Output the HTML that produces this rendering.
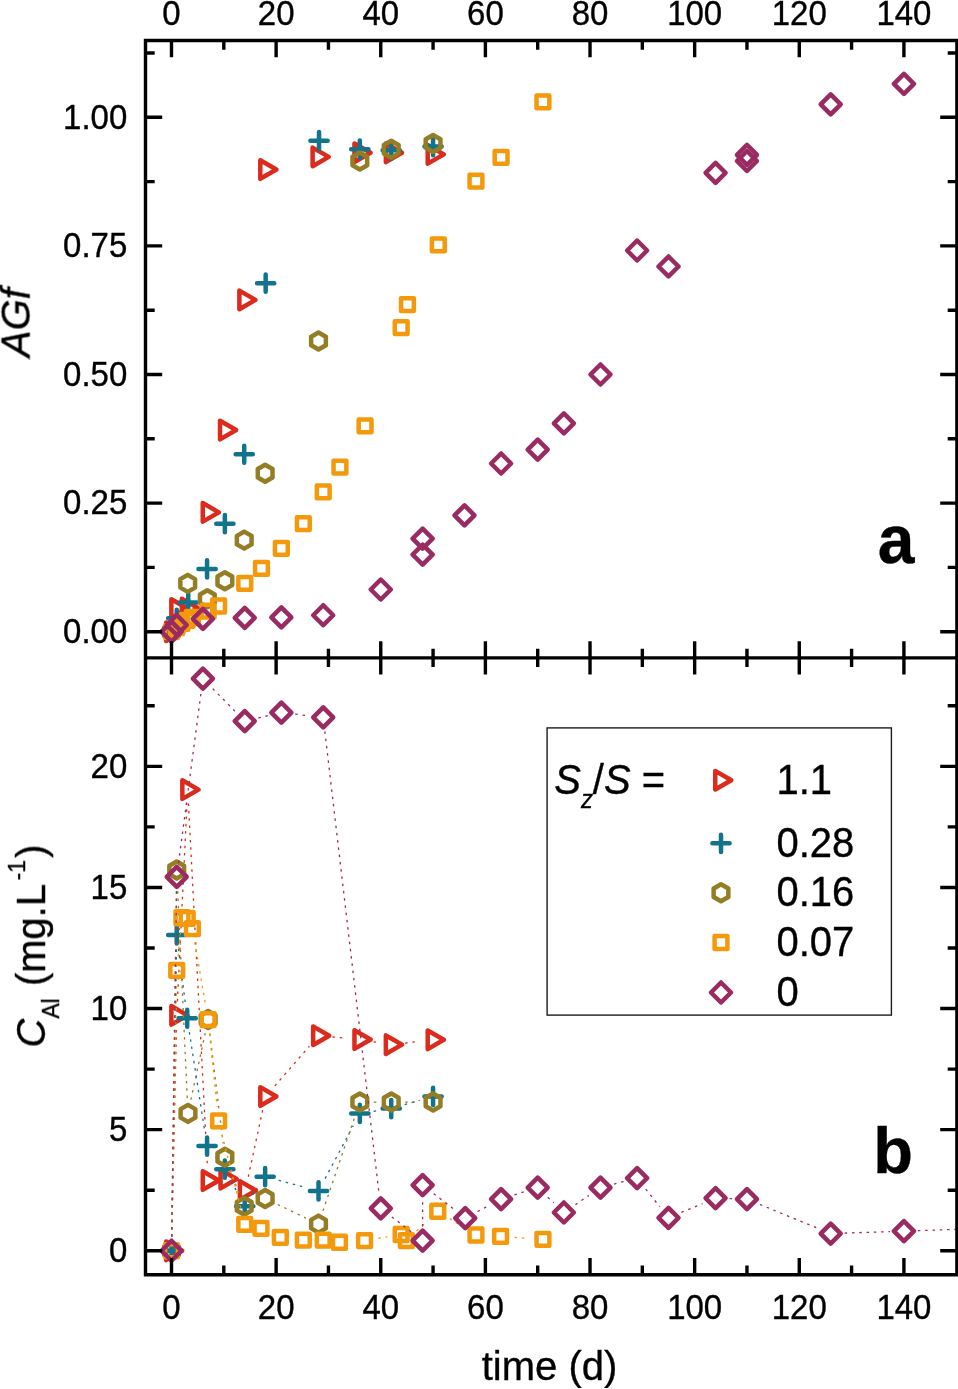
<!DOCTYPE html>
<html><head><meta charset="utf-8"><title>AGf and Al concentration vs time</title>
<style>html,body{margin:0;padding:0;background:#fff;overflow:hidden}svg{display:block}text{font-family:"Liberation Sans",sans-serif;fill:#000;stroke:#000;stroke-width:0.35px}</style></head><body>
<svg width="958" height="1389" viewBox="0 0 958 1389">
<rect width="958" height="1389" fill="#fff"/>
<g opacity="0.999">
<defs><clipPath id="cb"><rect x="145.5" y="657.9" width="812.5" height="616.9"/></clipPath></defs>
<g>
<path d="M166.13 622.4L182.24 631.7L166.13 641Z" fill="none" stroke="#dc2a1c" stroke-width="4.5" stroke-linejoin="round" stroke-linecap="round"/>
<path d="M171.36 599.25L187.47 608.55L171.36 617.85Z" fill="none" stroke="#dc2a1c" stroke-width="4.5" stroke-linejoin="round" stroke-linecap="round"/>
<path d="M181.83 598.74L197.93 608.04L181.83 617.34Z" fill="none" stroke="#dc2a1c" stroke-width="4.5" stroke-linejoin="round" stroke-linecap="round"/>
<path d="M202.75 503.06L218.86 512.36L202.75 521.66Z" fill="none" stroke="#dc2a1c" stroke-width="4.5" stroke-linejoin="round" stroke-linecap="round"/>
<path d="M220.02 420.76L236.12 430.06L220.02 439.36Z" fill="none" stroke="#dc2a1c" stroke-width="4.5" stroke-linejoin="round" stroke-linecap="round"/>
<path d="M239.37 290.61L255.48 299.91L239.37 309.21Z" fill="none" stroke="#dc2a1c" stroke-width="4.5" stroke-linejoin="round" stroke-linecap="round"/>
<path d="M260.3 160.21L276.41 169.51L260.3 178.81Z" fill="none" stroke="#dc2a1c" stroke-width="4.5" stroke-linejoin="round" stroke-linecap="round"/>
<path d="M312.61 147.61L328.72 156.91L312.61 166.21Z" fill="none" stroke="#dc2a1c" stroke-width="4.5" stroke-linejoin="round" stroke-linecap="round"/>
<path d="M354.46 143.49L370.57 152.79L354.46 162.09Z" fill="none" stroke="#dc2a1c" stroke-width="4.5" stroke-linejoin="round" stroke-linecap="round"/>
<path d="M385.85 143.49L401.96 152.79L385.85 162.09Z" fill="none" stroke="#dc2a1c" stroke-width="4.5" stroke-linejoin="round" stroke-linecap="round"/>
<path d="M427.71 145.04L443.81 154.34L427.71 163.64Z" fill="none" stroke="#dc2a1c" stroke-width="4.5" stroke-linejoin="round" stroke-linecap="round"/>
<path d="M162.9 631.7H180.1M171.5 623.1V640.3" fill="none" stroke="#11748a" stroke-width="4.5" stroke-linejoin="round" stroke-linecap="round"/>
<path d="M168.13 618.33H185.33M176.73 609.73V626.93" fill="none" stroke="#11748a" stroke-width="4.5" stroke-linejoin="round" stroke-linecap="round"/>
<path d="M179.64 602.38H196.84M188.24 593.78V610.98" fill="none" stroke="#11748a" stroke-width="4.5" stroke-linejoin="round" stroke-linecap="round"/>
<path d="M198.47 568.94H215.67M207.07 560.34V577.54" fill="none" stroke="#11748a" stroke-width="4.5" stroke-linejoin="round" stroke-linecap="round"/>
<path d="M216.26 523.68H233.46M224.86 515.08V532.28" fill="none" stroke="#11748a" stroke-width="4.5" stroke-linejoin="round" stroke-linecap="round"/>
<path d="M235.62 454.23H252.82M244.22 445.63V462.83" fill="none" stroke="#11748a" stroke-width="4.5" stroke-linejoin="round" stroke-linecap="round"/>
<path d="M257.07 283.19H274.27M265.67 274.59V291.79" fill="none" stroke="#11748a" stroke-width="4.5" stroke-linejoin="round" stroke-linecap="round"/>
<path d="M310.43 140.71H327.63M319.03 132.11V149.31" fill="none" stroke="#11748a" stroke-width="4.5" stroke-linejoin="round" stroke-linecap="round"/>
<path d="M351.23 149.19H368.43M359.83 140.59V157.79" fill="none" stroke="#11748a" stroke-width="4.5" stroke-linejoin="round" stroke-linecap="round"/>
<path d="M382.62 150.22H399.82M391.22 141.62V158.82" fill="none" stroke="#11748a" stroke-width="4.5" stroke-linejoin="round" stroke-linecap="round"/>
<path d="M424.47 146.62H441.68M433.07 138.02V155.22" fill="none" stroke="#11748a" stroke-width="4.5" stroke-linejoin="round" stroke-linecap="round"/>
<path d="M171.5 623.2L164.14 627.45L164.14 635.95L171.5 640.2L178.86 635.95L178.86 627.45Z" fill="none" stroke="#937e25" stroke-width="4.5" stroke-linejoin="round" stroke-linecap="round"/>
<path d="M176.73 618.06L169.37 622.31L169.37 630.81L176.73 635.06L184.09 630.81L184.09 622.31Z" fill="none" stroke="#937e25" stroke-width="4.5" stroke-linejoin="round" stroke-linecap="round"/>
<path d="M187.72 574.85L180.36 579.1L180.36 587.6L187.72 591.85L195.08 587.6L195.08 579.1Z" fill="none" stroke="#937e25" stroke-width="4.5" stroke-linejoin="round" stroke-linecap="round"/>
<path d="M207.34 590.28L199.97 594.53L199.97 603.03L207.34 607.28L214.7 603.03L214.7 594.53Z" fill="none" stroke="#937e25" stroke-width="4.5" stroke-linejoin="round" stroke-linecap="round"/>
<path d="M224.86 572.27L217.5 576.52L217.5 585.02L224.86 589.27L232.22 585.02L232.22 576.52Z" fill="none" stroke="#937e25" stroke-width="4.5" stroke-linejoin="round" stroke-linecap="round"/>
<path d="M244.22 531.64L236.86 535.89L236.86 544.39L244.22 548.64L251.58 544.39L251.58 535.89Z" fill="none" stroke="#937e25" stroke-width="4.5" stroke-linejoin="round" stroke-linecap="round"/>
<path d="M265.14 464.76L257.78 469.01L257.78 477.51L265.14 481.76L272.51 477.51L272.51 469.01Z" fill="none" stroke="#937e25" stroke-width="4.5" stroke-linejoin="round" stroke-linecap="round"/>
<path d="M318.51 332.56L311.14 336.81L311.14 345.31L318.51 349.56L325.87 345.31L325.87 336.81Z" fill="none" stroke="#937e25" stroke-width="4.5" stroke-linejoin="round" stroke-linecap="round"/>
<path d="M359.83 152.52L352.47 156.77L352.47 165.27L359.83 169.52L367.2 165.27L367.2 156.77Z" fill="none" stroke="#937e25" stroke-width="4.5" stroke-linejoin="round" stroke-linecap="round"/>
<path d="M391.22 140.69L383.86 144.94L383.86 153.44L391.22 157.69L398.58 153.44L398.58 144.94Z" fill="none" stroke="#937e25" stroke-width="4.5" stroke-linejoin="round" stroke-linecap="round"/>
<path d="M433.07 135.03L425.71 139.28L425.71 147.78L433.07 152.03L440.44 147.78L440.44 139.28Z" fill="none" stroke="#937e25" stroke-width="4.5" stroke-linejoin="round" stroke-linecap="round"/>
<rect x="165.1" y="625.3" width="12.8" height="12.8" fill="none" stroke="#f4990b" stroke-width="4.5" stroke-linejoin="round" stroke-linecap="round"/>
<rect x="170.33" y="621.18" width="12.8" height="12.8" fill="none" stroke="#f4990b" stroke-width="4.5" stroke-linejoin="round" stroke-linecap="round"/>
<rect x="175.56" y="617.07" width="12.8" height="12.8" fill="none" stroke="#f4990b" stroke-width="4.5" stroke-linejoin="round" stroke-linecap="round"/>
<rect x="180.79" y="613.98" width="12.8" height="12.8" fill="none" stroke="#f4990b" stroke-width="4.5" stroke-linejoin="round" stroke-linecap="round"/>
<rect x="186.03" y="610.9" width="12.8" height="12.8" fill="none" stroke="#f4990b" stroke-width="4.5" stroke-linejoin="round" stroke-linecap="round"/>
<rect x="201.72" y="604.72" width="12.8" height="12.8" fill="none" stroke="#f4990b" stroke-width="4.5" stroke-linejoin="round" stroke-linecap="round"/>
<rect x="212.18" y="599.58" width="12.8" height="12.8" fill="none" stroke="#f4990b" stroke-width="4.5" stroke-linejoin="round" stroke-linecap="round"/>
<rect x="238.34" y="576.95" width="12.8" height="12.8" fill="none" stroke="#f4990b" stroke-width="4.5" stroke-linejoin="round" stroke-linecap="round"/>
<rect x="255.08" y="562.03" width="12.8" height="12.8" fill="none" stroke="#f4990b" stroke-width="4.5" stroke-linejoin="round" stroke-linecap="round"/>
<rect x="274.96" y="541.97" width="12.8" height="12.8" fill="none" stroke="#f4990b" stroke-width="4.5" stroke-linejoin="round" stroke-linecap="round"/>
<rect x="296.93" y="517.28" width="12.8" height="12.8" fill="none" stroke="#f4990b" stroke-width="4.5" stroke-linejoin="round" stroke-linecap="round"/>
<rect x="316.81" y="485.38" width="12.8" height="12.8" fill="none" stroke="#f4990b" stroke-width="4.5" stroke-linejoin="round" stroke-linecap="round"/>
<rect x="333.55" y="460.69" width="12.8" height="12.8" fill="none" stroke="#f4990b" stroke-width="4.5" stroke-linejoin="round" stroke-linecap="round"/>
<rect x="358.67" y="419.54" width="12.8" height="12.8" fill="none" stroke="#f4990b" stroke-width="4.5" stroke-linejoin="round" stroke-linecap="round"/>
<rect x="394.76" y="321.29" width="12.8" height="12.8" fill="none" stroke="#f4990b" stroke-width="4.5" stroke-linejoin="round" stroke-linecap="round"/>
<rect x="401.04" y="298.14" width="12.8" height="12.8" fill="none" stroke="#f4990b" stroke-width="4.5" stroke-linejoin="round" stroke-linecap="round"/>
<rect x="431.91" y="238.47" width="12.8" height="12.8" fill="none" stroke="#f4990b" stroke-width="4.5" stroke-linejoin="round" stroke-linecap="round"/>
<rect x="469.57" y="174.69" width="12.8" height="12.8" fill="none" stroke="#f4990b" stroke-width="4.5" stroke-linejoin="round" stroke-linecap="round"/>
<rect x="494.68" y="151.02" width="12.8" height="12.8" fill="none" stroke="#f4990b" stroke-width="4.5" stroke-linejoin="round" stroke-linecap="round"/>
<rect x="536.54" y="95.47" width="12.8" height="12.8" fill="none" stroke="#f4990b" stroke-width="4.5" stroke-linejoin="round" stroke-linecap="round"/>
<path d="M171.5 621.7L181.5 631.7L171.5 641.7L161.5 631.7Z" fill="none" stroke="#992b62" stroke-width="4.5" stroke-linejoin="round" stroke-linecap="round"/>
<path d="M176.73 615.01L186.73 625.01L176.73 635.01L166.73 625.01Z" fill="none" stroke="#992b62" stroke-width="4.5" stroke-linejoin="round" stroke-linecap="round"/>
<path d="M202.89 608.84L212.89 618.84L202.89 628.84L192.89 618.84Z" fill="none" stroke="#992b62" stroke-width="4.5" stroke-linejoin="round" stroke-linecap="round"/>
<path d="M244.74 607.81L254.74 617.81L244.74 627.81L234.74 617.81Z" fill="none" stroke="#992b62" stroke-width="4.5" stroke-linejoin="round" stroke-linecap="round"/>
<path d="M281.36 607.3L291.36 617.3L281.36 627.3L271.36 617.3Z" fill="none" stroke="#992b62" stroke-width="4.5" stroke-linejoin="round" stroke-linecap="round"/>
<path d="M323.21 605.24L333.21 615.24L323.21 625.24L313.21 615.24Z" fill="none" stroke="#992b62" stroke-width="4.5" stroke-linejoin="round" stroke-linecap="round"/>
<path d="M380.76 579.52L390.76 589.52L380.76 599.52L370.76 589.52Z" fill="none" stroke="#992b62" stroke-width="4.5" stroke-linejoin="round" stroke-linecap="round"/>
<path d="M422.61 544.54L432.61 554.54L422.61 564.54L412.61 554.54Z" fill="none" stroke="#992b62" stroke-width="4.5" stroke-linejoin="round" stroke-linecap="round"/>
<path d="M422.61 528.59L432.61 538.59L422.61 548.59L412.61 538.59Z" fill="none" stroke="#992b62" stroke-width="4.5" stroke-linejoin="round" stroke-linecap="round"/>
<path d="M464.46 505.45L474.46 515.45L464.46 525.45L454.46 515.45Z" fill="none" stroke="#992b62" stroke-width="4.5" stroke-linejoin="round" stroke-linecap="round"/>
<path d="M501.08 453.49L511.08 463.49L501.08 473.49L491.08 463.49Z" fill="none" stroke="#992b62" stroke-width="4.5" stroke-linejoin="round" stroke-linecap="round"/>
<path d="M537.7 439.6L547.7 449.6L537.7 459.6L527.7 449.6Z" fill="none" stroke="#992b62" stroke-width="4.5" stroke-linejoin="round" stroke-linecap="round"/>
<path d="M563.86 413.37L573.86 423.37L563.86 433.37L553.86 423.37Z" fill="none" stroke="#992b62" stroke-width="4.5" stroke-linejoin="round" stroke-linecap="round"/>
<path d="M600.48 364.5L610.48 374.5L600.48 384.5L590.48 374.5Z" fill="none" stroke="#992b62" stroke-width="4.5" stroke-linejoin="round" stroke-linecap="round"/>
<path d="M637.1 240.53L647.1 250.53L637.1 260.53L627.1 250.53Z" fill="none" stroke="#992b62" stroke-width="4.5" stroke-linejoin="round" stroke-linecap="round"/>
<path d="M668.49 256.48L678.49 266.48L668.49 276.48L658.49 266.48Z" fill="none" stroke="#992b62" stroke-width="4.5" stroke-linejoin="round" stroke-linecap="round"/>
<path d="M715.58 162.86L725.58 172.86L715.58 182.86L705.58 172.86Z" fill="none" stroke="#992b62" stroke-width="4.5" stroke-linejoin="round" stroke-linecap="round"/>
<path d="M746.96 151.02L756.96 161.02L746.96 171.02L736.96 161.02Z" fill="none" stroke="#992b62" stroke-width="4.5" stroke-linejoin="round" stroke-linecap="round"/>
<path d="M746.96 144.85L756.96 154.85L746.96 164.85L736.96 154.85Z" fill="none" stroke="#992b62" stroke-width="4.5" stroke-linejoin="round" stroke-linecap="round"/>
<path d="M830.67 94.44L840.67 104.44L830.67 114.44L820.67 104.44Z" fill="none" stroke="#992b62" stroke-width="4.5" stroke-linejoin="round" stroke-linecap="round"/>
<path d="M903.91 73.86L913.91 83.86L903.91 93.86L893.91 83.86Z" fill="none" stroke="#992b62" stroke-width="4.5" stroke-linejoin="round" stroke-linecap="round"/>
</g>
<g clip-path="url(#cb)">
<path d="M171.81 1236.75L176.42 1029.33M177.41 1001.35L187.04 803.58M188.45 803.58L207.39 1166.53M248.23 1176.76L262.7 1110.15M274.85 1085.9L309.32 1046.24M332.44 1036.98L345.9 1038.24M373.65 1041.79L377.4 1042.4M405.13 1043.03L419.17 1041.4" stroke="#dc2a1c" fill="none" stroke-width="1.3" stroke-dasharray="2.5 4.8"/>
<path d="M166.13 1241.45L182.24 1250.75L166.13 1260.05Z" fill="none" stroke="#dc2a1c" stroke-width="4.5" stroke-linejoin="round" stroke-linecap="round"/>
<path d="M171.36 1006.03L187.47 1015.33L171.36 1024.63Z" fill="none" stroke="#dc2a1c" stroke-width="4.5" stroke-linejoin="round" stroke-linecap="round"/>
<path d="M182.35 780.3L198.46 789.6L182.35 798.9Z" fill="none" stroke="#dc2a1c" stroke-width="4.5" stroke-linejoin="round" stroke-linecap="round"/>
<path d="M202.75 1171.21L218.86 1180.51L202.75 1189.81Z" fill="none" stroke="#dc2a1c" stroke-width="4.5" stroke-linejoin="round" stroke-linecap="round"/>
<path d="M220.54 1169.76L236.65 1179.06L220.54 1188.36Z" fill="none" stroke="#dc2a1c" stroke-width="4.5" stroke-linejoin="round" stroke-linecap="round"/>
<path d="M239.89 1181.14L256 1190.44L239.89 1199.74Z" fill="none" stroke="#dc2a1c" stroke-width="4.5" stroke-linejoin="round" stroke-linecap="round"/>
<path d="M260.3 1087.17L276.41 1096.47L260.3 1105.77Z" fill="none" stroke="#dc2a1c" stroke-width="4.5" stroke-linejoin="round" stroke-linecap="round"/>
<path d="M313.14 1026.38L329.24 1035.68L313.14 1044.98Z" fill="none" stroke="#dc2a1c" stroke-width="4.5" stroke-linejoin="round" stroke-linecap="round"/>
<path d="M354.46 1030.25L370.57 1039.55L354.46 1048.85Z" fill="none" stroke="#dc2a1c" stroke-width="4.5" stroke-linejoin="round" stroke-linecap="round"/>
<path d="M385.85 1035.34L401.96 1044.64L385.85 1053.94Z" fill="none" stroke="#dc2a1c" stroke-width="4.5" stroke-linejoin="round" stroke-linecap="round"/>
<path d="M427.71 1030.49L443.81 1039.79L427.71 1049.09Z" fill="none" stroke="#dc2a1c" stroke-width="4.5" stroke-linejoin="round" stroke-linecap="round"/>
<path d="M171.73 1236.75L176.5 948.92M178.48 948.81L185.45 1004.35M189.35 1032.07L204.92 1132.29M215.64 1157.2L216.3 1158.05M231.48 1181.47L238.12 1193.85M252.7 1194.66L257.19 1188.16M278.67 1180.26L304.98 1187.31M325.09 1178.57L353.25 1125.78M373.67 1111.29L377.39 1110.71M404.67 1104.69L419.63 1100.36" stroke="#11748a" fill="none" stroke-width="1.3" stroke-dasharray="2.5 4.8"/>
<path d="M162.9 1250.75H180.1M171.5 1242.15V1259.35" fill="none" stroke="#11748a" stroke-width="4.5" stroke-linejoin="round" stroke-linecap="round"/>
<path d="M168.13 934.92H185.33M176.73 926.32V943.52" fill="none" stroke="#11748a" stroke-width="4.5" stroke-linejoin="round" stroke-linecap="round"/>
<path d="M178.59 1018.24H195.79M187.19 1009.64V1026.84" fill="none" stroke="#11748a" stroke-width="4.5" stroke-linejoin="round" stroke-linecap="round"/>
<path d="M198.47 1146.12H215.67M207.07 1137.52V1154.72" fill="none" stroke="#11748a" stroke-width="4.5" stroke-linejoin="round" stroke-linecap="round"/>
<path d="M216.26 1169.13H233.46M224.86 1160.53V1177.73" fill="none" stroke="#11748a" stroke-width="4.5" stroke-linejoin="round" stroke-linecap="round"/>
<path d="M236.14 1206.19H253.34M244.74 1197.59V1214.79" fill="none" stroke="#11748a" stroke-width="4.5" stroke-linejoin="round" stroke-linecap="round"/>
<path d="M256.54 1176.64H273.74M265.14 1168.04V1185.24" fill="none" stroke="#11748a" stroke-width="4.5" stroke-linejoin="round" stroke-linecap="round"/>
<path d="M309.91 1190.93H327.11M318.51 1182.33V1199.53" fill="none" stroke="#11748a" stroke-width="4.5" stroke-linejoin="round" stroke-linecap="round"/>
<path d="M351.23 1113.42H368.43M359.83 1104.82V1122.02" fill="none" stroke="#11748a" stroke-width="4.5" stroke-linejoin="round" stroke-linecap="round"/>
<path d="M382.62 1108.58H399.82M391.22 1099.98V1117.18" fill="none" stroke="#11748a" stroke-width="4.5" stroke-linejoin="round" stroke-linecap="round"/>
<path d="M424.47 1096.47H441.68M433.07 1087.87V1105.07" fill="none" stroke="#11748a" stroke-width="4.5" stroke-linejoin="round" stroke-linecap="round"/>
<path d="M171.69 1236.75L176.54 884.01M177.38 884L187.33 1099.44M190.91 1099.73L205.19 1033.14M209.81 1033.35L223.17 1143.36M230.01 1170.28L239.07 1193.17M277.76 1204.5L305.89 1218.04M322.99 1210.85L355.34 1115.3M373.83 1102.04L377.22 1102.04M405.22 1102.04L419.07 1102.04" stroke="#937e25" fill="none" stroke-width="1.3" stroke-dasharray="2.5 4.8"/>
<path d="M171.5 1242.25L164.14 1246.5L164.14 1255L171.5 1259.25L178.86 1255L178.86 1246.5Z" fill="none" stroke="#937e25" stroke-width="4.5" stroke-linejoin="round" stroke-linecap="round"/>
<path d="M176.73 861.51L169.37 865.76L169.37 874.26L176.73 878.51L184.09 874.26L184.09 865.76Z" fill="none" stroke="#937e25" stroke-width="4.5" stroke-linejoin="round" stroke-linecap="round"/>
<path d="M187.98 1104.92L180.62 1109.17L180.62 1117.67L187.98 1121.92L195.34 1117.67L195.34 1109.17Z" fill="none" stroke="#937e25" stroke-width="4.5" stroke-linejoin="round" stroke-linecap="round"/>
<path d="M208.12 1010.95L200.76 1015.2L200.76 1023.7L208.12 1027.95L215.48 1023.7L215.48 1015.2Z" fill="none" stroke="#937e25" stroke-width="4.5" stroke-linejoin="round" stroke-linecap="round"/>
<path d="M224.86 1148.76L217.5 1153.01L217.5 1161.51L224.86 1165.76L232.22 1161.51L232.22 1153.01Z" fill="none" stroke="#937e25" stroke-width="4.5" stroke-linejoin="round" stroke-linecap="round"/>
<path d="M244.22 1197.69L236.86 1201.94L236.86 1210.44L244.22 1214.69L251.58 1210.44L251.58 1201.94Z" fill="none" stroke="#937e25" stroke-width="4.5" stroke-linejoin="round" stroke-linecap="round"/>
<path d="M265.14 1189.93L257.78 1194.18L257.78 1202.68L265.14 1206.93L272.51 1202.68L272.51 1194.18Z" fill="none" stroke="#937e25" stroke-width="4.5" stroke-linejoin="round" stroke-linecap="round"/>
<path d="M318.51 1215.61L311.14 1219.86L311.14 1228.36L318.51 1232.61L325.87 1228.36L325.87 1219.86Z" fill="none" stroke="#937e25" stroke-width="4.5" stroke-linejoin="round" stroke-linecap="round"/>
<path d="M359.83 1093.54L352.47 1097.79L352.47 1106.29L359.83 1110.54L367.2 1106.29L367.2 1097.79Z" fill="none" stroke="#937e25" stroke-width="4.5" stroke-linejoin="round" stroke-linecap="round"/>
<path d="M391.22 1093.54L383.86 1097.79L383.86 1106.29L391.22 1110.54L398.58 1106.29L398.58 1097.79Z" fill="none" stroke="#937e25" stroke-width="4.5" stroke-linejoin="round" stroke-linecap="round"/>
<path d="M433.07 1093.54L425.71 1097.79L425.71 1106.29L433.07 1110.54L440.44 1106.29L440.44 1097.79Z" fill="none" stroke="#937e25" stroke-width="4.5" stroke-linejoin="round" stroke-linecap="round"/>
<path d="M171.76 1236.75L176.47 984.28M178.12 956.35L180.58 931.66M194.8 942.42L205.74 1005.89M209.56 1033.62L217.14 1107M222.02 1134.5L241.31 1210.78M378.35 1238.29L387.35 1236.81M416.63 1231.02L427.55 1220.83M449.67 1218.66L464.08 1227.62M514.53 1237.42L528.97 1238.41" stroke="#f4990b" fill="none" stroke-width="1.3" stroke-dasharray="2.5 4.8"/>
<rect x="165.1" y="1244.35" width="12.8" height="12.8" fill="none" stroke="#f4990b" stroke-width="4.5" stroke-linejoin="round" stroke-linecap="round"/>
<rect x="170.33" y="963.88" width="12.8" height="12.8" fill="none" stroke="#f4990b" stroke-width="4.5" stroke-linejoin="round" stroke-linecap="round"/>
<rect x="175.56" y="911.33" width="12.8" height="12.8" fill="none" stroke="#f4990b" stroke-width="4.5" stroke-linejoin="round" stroke-linecap="round"/>
<rect x="180.79" y="912.05" width="12.8" height="12.8" fill="none" stroke="#f4990b" stroke-width="4.5" stroke-linejoin="round" stroke-linecap="round"/>
<rect x="186.03" y="922.22" width="12.8" height="12.8" fill="none" stroke="#f4990b" stroke-width="4.5" stroke-linejoin="round" stroke-linecap="round"/>
<rect x="201.72" y="1013.29" width="12.8" height="12.8" fill="none" stroke="#f4990b" stroke-width="4.5" stroke-linejoin="round" stroke-linecap="round"/>
<rect x="212.18" y="1114.53" width="12.8" height="12.8" fill="none" stroke="#f4990b" stroke-width="4.5" stroke-linejoin="round" stroke-linecap="round"/>
<rect x="238.34" y="1217.95" width="12.8" height="12.8" fill="none" stroke="#f4990b" stroke-width="4.5" stroke-linejoin="round" stroke-linecap="round"/>
<rect x="254.56" y="1222.07" width="12.8" height="12.8" fill="none" stroke="#f4990b" stroke-width="4.5" stroke-linejoin="round" stroke-linecap="round"/>
<rect x="273.92" y="1231.03" width="12.8" height="12.8" fill="none" stroke="#f4990b" stroke-width="4.5" stroke-linejoin="round" stroke-linecap="round"/>
<rect x="296.93" y="1233.69" width="12.8" height="12.8" fill="none" stroke="#f4990b" stroke-width="4.5" stroke-linejoin="round" stroke-linecap="round"/>
<rect x="316.81" y="1233.69" width="12.8" height="12.8" fill="none" stroke="#f4990b" stroke-width="4.5" stroke-linejoin="round" stroke-linecap="round"/>
<rect x="333.03" y="1235.87" width="12.8" height="12.8" fill="none" stroke="#f4990b" stroke-width="4.5" stroke-linejoin="round" stroke-linecap="round"/>
<rect x="358.14" y="1234.18" width="12.8" height="12.8" fill="none" stroke="#f4990b" stroke-width="4.5" stroke-linejoin="round" stroke-linecap="round"/>
<rect x="394.76" y="1228.12" width="12.8" height="12.8" fill="none" stroke="#f4990b" stroke-width="4.5" stroke-linejoin="round" stroke-linecap="round"/>
<rect x="399.99" y="1234.18" width="12.8" height="12.8" fill="none" stroke="#f4990b" stroke-width="4.5" stroke-linejoin="round" stroke-linecap="round"/>
<rect x="431.38" y="1204.87" width="12.8" height="12.8" fill="none" stroke="#f4990b" stroke-width="4.5" stroke-linejoin="round" stroke-linecap="round"/>
<rect x="469.57" y="1228.61" width="12.8" height="12.8" fill="none" stroke="#f4990b" stroke-width="4.5" stroke-linejoin="round" stroke-linecap="round"/>
<rect x="494.16" y="1230.06" width="12.8" height="12.8" fill="none" stroke="#f4990b" stroke-width="4.5" stroke-linejoin="round" stroke-linecap="round"/>
<rect x="536.54" y="1232.97" width="12.8" height="12.8" fill="none" stroke="#f4990b" stroke-width="4.5" stroke-linejoin="round" stroke-linecap="round"/>
<path d="M171.7 1236.75L176.54 890.79M178.56 862.91L201.06 692.55M212.73 688.64L234.9 711.1M258.38 717.9L267.72 715.74M295.27 714.19L309.31 715.82M324.84 731.33L379.13 1194.46M391.85 1216.9L411.52 1232.04M422.61 1226.58L422.61 1199.11M433.69 1193.67L454.17 1209.49M477.63 1211.52L488.7 1205.69M514.43 1194.93L524.36 1191.77M547.84 1197.2L553.73 1202.82M575.43 1204.6L588.91 1195.42M614.04 1184.04L623.55 1181.59M645.78 1189.07L659.81 1206.83M681.42 1212.43L702.65 1203.58M729.57 1198.62L732.97 1198.73M759.91 1204.48L817.72 1228.23M844.66 1233.09L889.92 1231.59M917.9 1230.64L1020.71 1227.02" stroke="#992b62" fill="none" stroke-width="1.3" stroke-dasharray="2.5 4.8"/>
<path d="M171.5 1240.75L181.5 1250.75L171.5 1260.75L161.5 1250.75Z" fill="none" stroke="#992b62" stroke-width="4.5" stroke-linejoin="round" stroke-linecap="round"/>
<path d="M176.73 866.79L186.73 876.79L176.73 886.79L166.73 876.79Z" fill="none" stroke="#992b62" stroke-width="4.5" stroke-linejoin="round" stroke-linecap="round"/>
<path d="M202.89 668.67L212.89 678.67L202.89 688.67L192.89 678.67Z" fill="none" stroke="#992b62" stroke-width="4.5" stroke-linejoin="round" stroke-linecap="round"/>
<path d="M244.74 711.06L254.74 721.06L244.74 731.06L234.74 721.06Z" fill="none" stroke="#992b62" stroke-width="4.5" stroke-linejoin="round" stroke-linecap="round"/>
<path d="M281.36 702.58L291.36 712.58L281.36 722.58L271.36 712.58Z" fill="none" stroke="#992b62" stroke-width="4.5" stroke-linejoin="round" stroke-linecap="round"/>
<path d="M323.21 707.43L333.21 717.43L323.21 727.43L313.21 717.43Z" fill="none" stroke="#992b62" stroke-width="4.5" stroke-linejoin="round" stroke-linecap="round"/>
<path d="M380.76 1198.37L390.76 1208.37L380.76 1218.37L370.76 1208.37Z" fill="none" stroke="#992b62" stroke-width="4.5" stroke-linejoin="round" stroke-linecap="round"/>
<path d="M422.61 1230.58L432.61 1240.58L422.61 1250.58L412.61 1240.58Z" fill="none" stroke="#992b62" stroke-width="4.5" stroke-linejoin="round" stroke-linecap="round"/>
<path d="M422.61 1175.11L432.61 1185.11L422.61 1195.11L412.61 1185.11Z" fill="none" stroke="#992b62" stroke-width="4.5" stroke-linejoin="round" stroke-linecap="round"/>
<path d="M465.25 1208.05L475.25 1218.05L465.25 1228.05L455.25 1218.05Z" fill="none" stroke="#992b62" stroke-width="4.5" stroke-linejoin="round" stroke-linecap="round"/>
<path d="M501.08 1189.16L511.08 1199.16L501.08 1209.16L491.08 1199.16Z" fill="none" stroke="#992b62" stroke-width="4.5" stroke-linejoin="round" stroke-linecap="round"/>
<path d="M537.7 1177.54L547.7 1187.54L537.7 1197.54L527.7 1187.54Z" fill="none" stroke="#992b62" stroke-width="4.5" stroke-linejoin="round" stroke-linecap="round"/>
<path d="M563.86 1202.48L573.86 1212.48L563.86 1222.48L553.86 1212.48Z" fill="none" stroke="#992b62" stroke-width="4.5" stroke-linejoin="round" stroke-linecap="round"/>
<path d="M600.48 1177.54L610.48 1187.54L600.48 1197.54L590.48 1187.54Z" fill="none" stroke="#992b62" stroke-width="4.5" stroke-linejoin="round" stroke-linecap="round"/>
<path d="M637.1 1168.09L647.1 1178.09L637.1 1188.09L627.1 1178.09Z" fill="none" stroke="#992b62" stroke-width="4.5" stroke-linejoin="round" stroke-linecap="round"/>
<path d="M668.49 1207.81L678.49 1217.81L668.49 1227.81L658.49 1217.81Z" fill="none" stroke="#992b62" stroke-width="4.5" stroke-linejoin="round" stroke-linecap="round"/>
<path d="M715.58 1188.19L725.58 1198.19L715.58 1208.19L705.58 1198.19Z" fill="none" stroke="#992b62" stroke-width="4.5" stroke-linejoin="round" stroke-linecap="round"/>
<path d="M746.96 1189.16L756.96 1199.16L746.96 1209.16L736.96 1199.16Z" fill="none" stroke="#992b62" stroke-width="4.5" stroke-linejoin="round" stroke-linecap="round"/>
<path d="M830.67 1223.55L840.67 1233.55L830.67 1243.55L820.67 1233.55Z" fill="none" stroke="#992b62" stroke-width="4.5" stroke-linejoin="round" stroke-linecap="round"/>
<path d="M903.91 1221.13L913.91 1231.13L903.91 1241.13L893.91 1231.13Z" fill="none" stroke="#992b62" stroke-width="4.5" stroke-linejoin="round" stroke-linecap="round"/>
</g>
<path d="M145.5 40.55H956.9V1274.8H145.5ZM145.5 657.9H956.9M171.5 42.25v15M171.5 641.2v33.4M171.5 1273.1v-15M223.81 42.25v7.5M223.81 648.7v18.4M223.81 1273.1v-7.5M276.13 42.25v15M276.13 641.2v33.4M276.13 1273.1v-15M328.44 42.25v7.5M328.44 648.7v18.4M328.44 1273.1v-7.5M380.76 42.25v15M380.76 641.2v33.4M380.76 1273.1v-15M433.07 42.25v7.5M433.07 648.7v18.4M433.07 1273.1v-7.5M485.39 42.25v15M485.39 641.2v33.4M485.39 1273.1v-15M537.7 42.25v7.5M537.7 648.7v18.4M537.7 1273.1v-7.5M590.02 42.25v15M590.02 641.2v33.4M590.02 1273.1v-15M642.34 42.25v7.5M642.34 648.7v18.4M642.34 1273.1v-7.5M694.65 42.25v15M694.65 641.2v33.4M694.65 1273.1v-15M746.96 42.25v7.5M746.96 648.7v18.4M746.96 1273.1v-7.5M799.28 42.25v15M799.28 641.2v33.4M799.28 1273.1v-15M851.59 42.25v7.5M851.59 648.7v18.4M851.59 1273.1v-7.5M903.91 42.25v15M903.91 641.2v33.4M903.91 1273.1v-15M147.2 631.7h15M955.2 631.7h-15M147.2 567.4h7.5M955.2 567.4h-7.5M147.2 503.1h15M955.2 503.1h-15M147.2 438.8h7.5M955.2 438.8h-7.5M147.2 374.5h15M955.2 374.5h-15M147.2 310.2h7.5M955.2 310.2h-7.5M147.2 245.9h15M955.2 245.9h-15M147.2 181.6h7.5M955.2 181.6h-7.5M147.2 117.3h15M955.2 117.3h-15M147.2 53h7.5M955.2 53h-7.5M147.2 1250.75h15M955.2 1250.75h-15M147.2 1190.2h7.5M955.2 1190.2h-7.5M147.2 1129.65h15M955.2 1129.65h-15M147.2 1069.1h7.5M955.2 1069.1h-7.5M147.2 1008.55h15M955.2 1008.55h-15M147.2 948h7.5M955.2 948h-7.5M147.2 887.45h15M955.2 887.45h-15M147.2 826.9h7.5M955.2 826.9h-7.5M147.2 766.35h15M955.2 766.35h-15M147.2 705.8h7.5M955.2 705.8h-7.5" fill="none" stroke="#000" stroke-width="3.4" stroke-linecap="butt" stroke-linejoin="miter"/>
<text transform="translate(171.5 24.6) scale(1 1.055)" font-size="33" text-anchor="middle">0</text>
<text transform="translate(171.5 1318.9) scale(1 1.055)" font-size="33" text-anchor="middle">0</text>
<text transform="translate(276.13 24.6) scale(1 1.055)" font-size="33" text-anchor="middle">20</text>
<text transform="translate(276.13 1318.9) scale(1 1.055)" font-size="33" text-anchor="middle">20</text>
<text transform="translate(380.76 24.6) scale(1 1.055)" font-size="33" text-anchor="middle">40</text>
<text transform="translate(380.76 1318.9) scale(1 1.055)" font-size="33" text-anchor="middle">40</text>
<text transform="translate(485.39 24.6) scale(1 1.055)" font-size="33" text-anchor="middle">60</text>
<text transform="translate(485.39 1318.9) scale(1 1.055)" font-size="33" text-anchor="middle">60</text>
<text transform="translate(590.02 24.6) scale(1 1.055)" font-size="33" text-anchor="middle">80</text>
<text transform="translate(590.02 1318.9) scale(1 1.055)" font-size="33" text-anchor="middle">80</text>
<text transform="translate(694.65 24.6) scale(1 1.055)" font-size="33" text-anchor="middle">100</text>
<text transform="translate(694.65 1318.9) scale(1 1.055)" font-size="33" text-anchor="middle">100</text>
<text transform="translate(799.28 24.6) scale(1 1.055)" font-size="33" text-anchor="middle">120</text>
<text transform="translate(799.28 1318.9) scale(1 1.055)" font-size="33" text-anchor="middle">120</text>
<text transform="translate(903.91 24.6) scale(1 1.055)" font-size="33" text-anchor="middle">140</text>
<text transform="translate(903.91 1318.9) scale(1 1.055)" font-size="33" text-anchor="middle">140</text>
<text transform="translate(127.3 643) scale(1 1.055)" font-size="33" text-anchor="end">0.00</text>
<text transform="translate(127.3 514.4) scale(1 1.055)" font-size="33" text-anchor="end">0.25</text>
<text transform="translate(127.3 385.8) scale(1 1.055)" font-size="33" text-anchor="end">0.50</text>
<text transform="translate(127.3 257.2) scale(1 1.055)" font-size="33" text-anchor="end">0.75</text>
<text transform="translate(127.3 128.6) scale(1 1.055)" font-size="33" text-anchor="end">1.00</text>
<text transform="translate(127.3 1262.05) scale(1 1.055)" font-size="33" text-anchor="end">0</text>
<text transform="translate(127.3 1140.95) scale(1 1.055)" font-size="33" text-anchor="end">5</text>
<text transform="translate(127.3 1019.85) scale(1 1.055)" font-size="33" text-anchor="end">10</text>
<text transform="translate(127.3 898.75) scale(1 1.055)" font-size="33" text-anchor="end">15</text>
<text transform="translate(127.3 777.65) scale(1 1.055)" font-size="33" text-anchor="end">20</text>
<text x="549.5" y="1379.6" font-size="40" text-anchor="middle">time (d)</text>
<text transform="translate(29.6 322.6) rotate(-90)" font-size="40" font-style="italic" text-anchor="middle">AGf</text>
<text transform="translate(45 1047.6) rotate(-90)" font-size="40"><tspan font-style="italic">C</tspan><tspan font-size="23" dy="14">Al</tspan><tspan dy="-14" dx="1"> (mg.L</tspan><tspan font-size="23" dy="-20" dx="3.5">-1</tspan><tspan dy="20" dx="2.2">)</tspan></text>
<text transform="translate(896 563.3) scale(1 1.05)" font-size="66" text-anchor="middle" font-weight="bold">a</text>
<text transform="translate(893.2 1173.3) scale(1 1.0)" font-size="65" text-anchor="middle" font-weight="bold">b</text>
<rect x="547.1" y="727.9" width="344.3" height="287.2" fill="#fff" stroke="#1c1c1c" stroke-width="1.4"/>
<text transform="translate(554.2 794.4) scale(1 1.055)" font-size="40"><tspan font-style="italic">S</tspan><tspan font-size="24" font-style="italic" dy="12.89">z</tspan><tspan dy="-12.89">/</tspan><tspan font-style="italic">S</tspan> =</text>
<path d="M715.23 770.9L731.34 780.2L715.23 789.5Z" fill="none" stroke="#dc2a1c" stroke-width="4.5" stroke-linejoin="round" stroke-linecap="round"/>
<text transform="translate(776.5 794.3) scale(1 1.055)" font-size="40" text-anchor="start">1.1</text>
<path d="M712.4 843.3H729.6M721 834.7V851.9" fill="none" stroke="#11748a" stroke-width="4.5" stroke-linejoin="round" stroke-linecap="round"/>
<text transform="translate(776.5 856.6) scale(1 1.055)" font-size="40" text-anchor="start">0.28</text>
<path d="M721 884.3L713.64 888.55L713.64 897.05L721 901.3L728.36 897.05L728.36 888.55Z" fill="none" stroke="#937e25" stroke-width="4.5" stroke-linejoin="round" stroke-linecap="round"/>
<text transform="translate(776.5 906.1) scale(1 1.055)" font-size="40" text-anchor="start">0.16</text>
<rect x="714.6" y="936.1" width="12.8" height="12.8" fill="none" stroke="#f4990b" stroke-width="4.5" stroke-linejoin="round" stroke-linecap="round"/>
<text transform="translate(776.5 955.8) scale(1 1.055)" font-size="40" text-anchor="start">0.07</text>
<path d="M721 982.5L731 992.5L721 1002.5L711 992.5Z" fill="none" stroke="#992b62" stroke-width="4.5" stroke-linejoin="round" stroke-linecap="round"/>
<text transform="translate(776.5 1005.8) scale(1 1.055)" font-size="40" text-anchor="start">0</text>
</g></svg></body></html>
